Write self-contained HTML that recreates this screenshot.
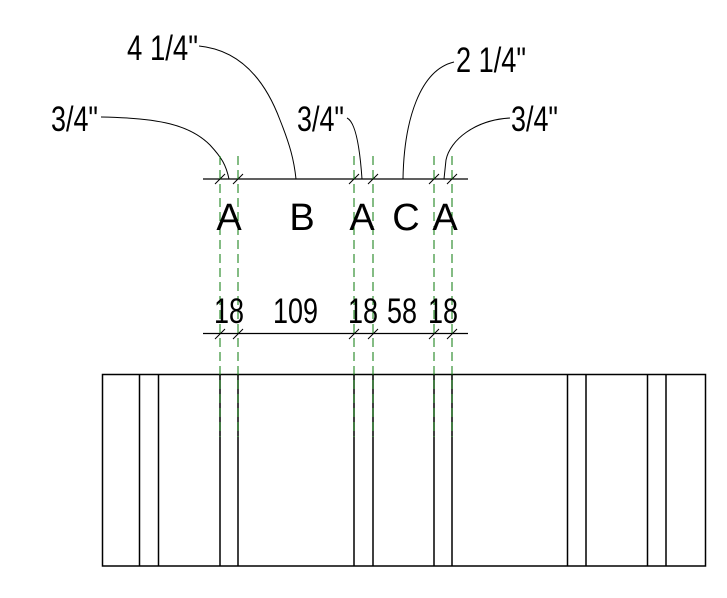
<!DOCTYPE html>
<html><head><meta charset="utf-8"><style>html,body{margin:0;padding:0;background:#fff}svg{display:block}</style></head><body>
<svg width="727" height="598" viewBox="0 0 727 598" xmlns="http://www.w3.org/2000/svg" font-family="Liberation Sans, sans-serif">
<g stroke="#000" stroke-width="1.2" fill="none">
<rect x="102.5" y="374.5" width="603" height="191.5" stroke-width="1.5"/>
<path d="M139.5 374.5V566M158.5 374.5V566M220 374.5V566M238 374.5V566M354 374.5V566M373 374.5V566M434 374.5V566M452 374.5V566M567.5 374.5V566M586 374.5V566M647.5 374.5V566M666 374.5V566" stroke-width="1.5"/>
<path d="M203 179H468M203 333.5H468"/>
<g stroke-width="1">
<path d="M215 184L225 174M233 184L243 174M349 184L359 174M368 184L378 174M429 184L439 174M447 184L457 174"/>
<path d="M215 339L225 329M233 339L243 329M349 339L359 329M368 339L378 329M429 339L439 329M447 339L457 329"/>
<path d="M101 117C160 118 190 125 210 145C222 158 226 165 229 179"/>
<path d="M199 46C240 50 265 80 280 120C290 145 294 160 296 179"/>
<path d="M347 118C356 122 360 150 362 179"/>
<path d="M454 62C420 70 404 120 403 179"/>
<path d="M510 118C475 120 450 140 446 160L444 179"/>
</g>
</g>
<g stroke="#0a7a0a" stroke-width="1.3" stroke-dasharray="9,5" shape-rendering="crispEdges">
<path d="M220 156V437M238 156V437M354 156V437M373 156V437M434 156V437M452 156V437"/>
</g>
<g font-size="38" fill="#000" text-anchor="middle">
<text x="229" y="230">A</text><text x="302" y="230">B</text><text x="362" y="230">A</text><text x="406" y="230">C</text><text x="445" y="230">A</text>
</g>
<g font-size="35" fill="#000">
<text x="214" y="323" textLength="30" lengthAdjust="spacingAndGlyphs">18</text>
<text x="273" y="323" textLength="45" lengthAdjust="spacingAndGlyphs">109</text>
<text x="348" y="323" textLength="30" lengthAdjust="spacingAndGlyphs">18</text>
<text x="387" y="323" textLength="30" lengthAdjust="spacingAndGlyphs">58</text>
<text x="428" y="323" textLength="30" lengthAdjust="spacingAndGlyphs">18</text>
<text x="51" y="131" textLength="47" lengthAdjust="spacingAndGlyphs">3/4"</text>
<text x="127" y="60" textLength="71" lengthAdjust="spacingAndGlyphs">4 1/4"</text>
<text x="297" y="131" textLength="47" lengthAdjust="spacingAndGlyphs">3/4"</text>
<text x="456" y="72" textLength="70" lengthAdjust="spacingAndGlyphs">2 1/4"</text>
<text x="511" y="131" textLength="47" lengthAdjust="spacingAndGlyphs">3/4"</text>
</g>
</svg>
</body></html>
